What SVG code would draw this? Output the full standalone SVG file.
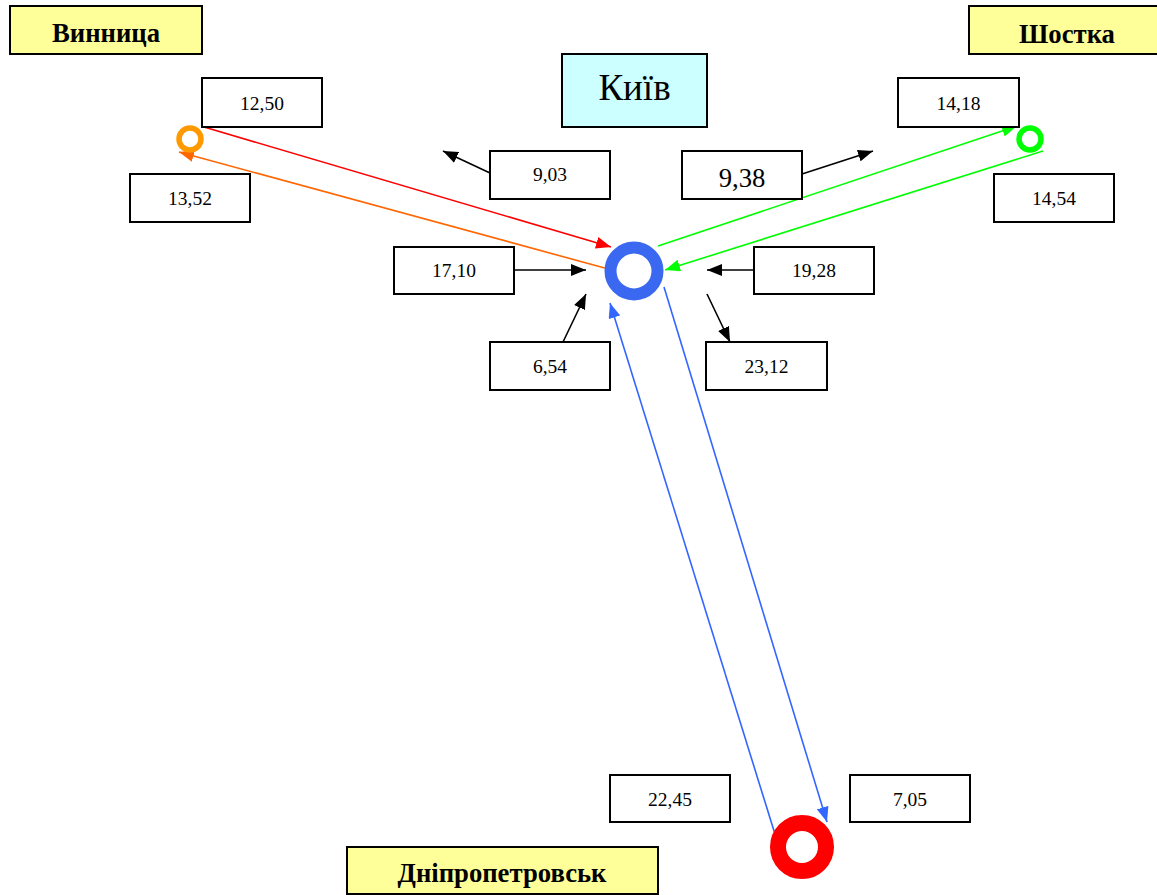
<svg xmlns="http://www.w3.org/2000/svg" width="1157" height="895" viewBox="0 0 1157 895">
<style>
.box{fill:#fff;stroke:#000;stroke-width:2}
.city{fill:#FFFF99;stroke:#000;stroke-width:2}
.num{font-family:"Liberation Serif",serif;font-size:19.5px;text-anchor:middle;fill:#000}
.lbl{font-family:"Liberation Serif",serif;font-size:26.7px;font-weight:bold;text-anchor:middle;fill:#000}
.blk{stroke:#000;stroke-width:1.6;fill:none}
.ln{stroke-width:1.6;fill:none}
</style>
<defs>
<marker id="aK" markerUnits="userSpaceOnUse" markerWidth="16" markerHeight="12" refX="15" refY="6" orient="auto"><path d="M0,0 L15,6 L0,12 z" fill="#000"/></marker>
<marker id="aR" markerUnits="userSpaceOnUse" markerWidth="16" markerHeight="12" refX="15" refY="6" orient="auto"><path d="M0,0 L15,6 L0,12 z" fill="#FF0000"/></marker>
<marker id="aO" markerUnits="userSpaceOnUse" markerWidth="16" markerHeight="12" refX="15" refY="6" orient="auto"><path d="M0,0 L15,6 L0,12 z" fill="#FF6600"/></marker>
<marker id="aG" markerUnits="userSpaceOnUse" markerWidth="16" markerHeight="12" refX="15" refY="6" orient="auto"><path d="M0,0 L15,6 L0,12 z" fill="#00FF00"/></marker>
<marker id="aB" markerUnits="userSpaceOnUse" markerWidth="16" markerHeight="12" refX="15" refY="6" orient="auto"><path d="M0,0 L15,6 L0,12 z" fill="#3366FF"/></marker>
</defs>
<rect width="1157" height="895" fill="#fff"/>

<g id="connectors">
<line class="ln" stroke="#FF0000" x1="204" y1="127" x2="611" y2="247" marker-end="url(#aR)"/>
<line class="ln" stroke="#FF6600" x1="612" y1="270" x2="179" y2="152" marker-end="url(#aO)"/>
<line class="ln" stroke="#00FF00" x1="658" y1="246" x2="1017" y2="126" marker-end="url(#aG)"/>
<line class="ln" stroke="#00FF00" x1="1043" y1="151" x2="665" y2="270" marker-end="url(#aG)"/>
<line class="ln" stroke="#3366FF" x1="664" y1="287" x2="827" y2="822" marker-end="url(#aB)"/>
<line class="ln" stroke="#3366FF" x1="779" y1="847" x2="610" y2="303" marker-end="url(#aB)"/>
<line class="blk" x1="490" y1="173" x2="443" y2="151" marker-end="url(#aK)"/>
<line class="blk" x1="802" y1="174" x2="873" y2="151" marker-end="url(#aK)"/>
<line class="blk" x1="514" y1="270" x2="586" y2="270" marker-end="url(#aK)"/>
<line class="blk" x1="754" y1="270" x2="707" y2="270" marker-end="url(#aK)"/>
<line class="blk" x1="563" y1="342" x2="586" y2="294" marker-end="url(#aK)"/>
<line class="blk" x1="707" y1="294" x2="730" y2="342" marker-end="url(#aK)"/>
</g>

<g id="node-kyiv-hub"><circle cx="634" cy="271" r="23.5" fill="none" stroke="#3A68F0" stroke-width="12"/></g>
<g id="node-vinnytsia-hub"><circle cx="190" cy="139" r="11" fill="none" stroke="#FF9900" stroke-width="5.5"/></g>
<g id="node-shostka-hub"><circle cx="1030" cy="139" r="11" fill="none" stroke="#00FF00" stroke-width="5.5"/></g>
<g id="node-dnipro-hub"><circle cx="802" cy="847" r="24" fill="none" stroke="#FF0000" stroke-width="16"/></g>

<g id="node-vinnytsia"><rect class="city" x="10" y="6" width="192" height="48"/><text class="lbl" x="106" y="42">Винница</text></g>
<g id="node-shostka"><rect class="city" x="969" y="6" width="196" height="48"/><text class="lbl" x="1067" y="43">Шостка</text></g>
<g id="node-dnipro"><rect class="city" x="347" y="847" width="311" height="47"/><text class="lbl" x="502" y="882">Дніпропетровськ</text></g>
<g id="node-kyiv"><rect x="562" y="54" width="145" height="73" fill="#CCFFFF" stroke="#000" stroke-width="2"/><text x="634.5" y="100" font-family="Liberation Serif, serif" font-size="37px" text-anchor="middle">Київ</text></g>

<g id="node-1250"><rect class="box" x="202" y="78" width="120" height="49"/><text class="num" x="262" y="110">12,50</text></g>
<g id="node-1352"><rect class="box" x="130" y="174" width="120" height="48"/><text class="num" x="190" y="205">13,52</text></g>
<g id="node-1418"><rect class="box" x="898" y="78" width="121" height="49"/><text class="num" x="958.5" y="110">14,18</text></g>
<g id="node-1454"><rect class="box" x="994" y="174" width="120" height="48"/><text class="num" x="1054" y="205">14,54</text></g>
<g id="node-903"><rect class="box" x="490" y="151" width="120" height="48"/><text class="num" x="550" y="181">9,03</text></g>
<g id="node-938"><rect class="box" x="682" y="151" width="120" height="48"/><text x="742" y="187" font-family="Liberation Serif, serif" font-size="26.7px" text-anchor="middle">9,38</text></g>
<g id="node-1710"><rect class="box" x="394" y="247" width="120" height="47"/><text class="num" x="454" y="277">17,10</text></g>
<g id="node-1928"><rect class="box" x="754" y="247" width="120" height="47"/><text class="num" x="814" y="277">19,28</text></g>
<g id="node-654"><rect class="box" x="490" y="342" width="120" height="48"/><text class="num" x="550" y="373">6,54</text></g>
<g id="node-2312"><rect class="box" x="706" y="342" width="121" height="48"/><text class="num" x="766.5" y="373">23,12</text></g>
<g id="node-2245"><rect class="box" x="610" y="775" width="120" height="47"/><text class="num" x="670" y="806">22,45</text></g>
<g id="node-705"><rect class="box" x="850" y="775" width="120" height="47"/><text class="num" x="910" y="806">7,05</text></g>
</svg>
